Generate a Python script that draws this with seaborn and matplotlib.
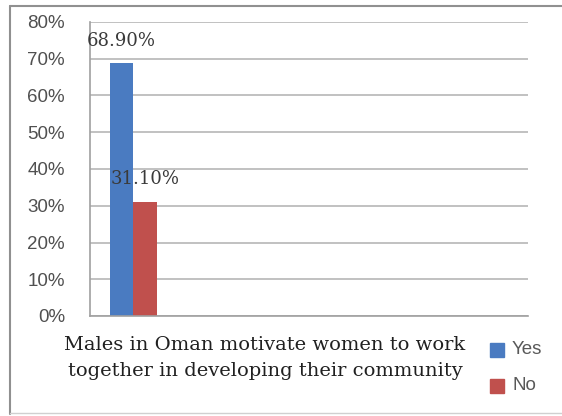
import matplotlib
matplotlib.use("Agg")
import matplotlib.pyplot as plt
import matplotlib.lines as mlines
import seaborn as sns
import pandas as pd

# Survey responses
categories = ["Males in Oman motivate women to work\ntogether in developing their community"]
answers = ["Yes", "No"]
percentages = [68.90, 31.10]
value_labels = ["68.90%", "31.10%"]
y_ticks = [0, 10, 20, 30, 40, 50, 60, 70, 80]
colors = ["#4a7bc1", "#c0504d"]

df = pd.DataFrame({
    "category": [categories[0]] * len(answers),
    "answer": answers,
    "pct": percentages,
})

sns.set_theme(style="white")
plt.rcParams["font.family"] = ["Liberation Sans", "DejaVu Sans"]

W, H = 562, 416
fig = plt.figure(figsize=(W / 100, H / 100), dpi=100)
ax = fig.add_axes([90 / W, 1 - 316 / H, 438 / W, (316 - 22) / H])

sns.barplot(data=df, x="category", y="pct", hue="answer", palette=colors,
            width=0.8, saturation=1, legend=False, linewidth=0, ax=ax)

ax.set_ylim(0, 80)
ax.set_xlim(-0.74, 6.715)
ax.set_yticks(y_ticks)
ax.set_yticklabels([f"{t}%" for t in y_ticks], fontsize=13.5, color="#505050")
ax.tick_params(axis="y", length=0, pad=18)
ax.set_xticks([])
ax.set_xlabel("")
ax.set_ylabel("")
ax.yaxis.grid(True, color="#b0b0b0", linewidth=1.1)
ax.set_axisbelow(True)
for side in ["top", "right"]:
    ax.spines[side].set_visible(False)
for side in ["left", "bottom"]:
    ax.spines[side].set_color("#a0a0a0")
    ax.spines[side].set_linewidth(1.2)

# value labels above bars
for patch, txt in zip(ax.patches, value_labels):
    cx = patch.get_x() + patch.get_width() / 2
    ax.annotate(txt, (cx, patch.get_height()), xytext=(0, 16),
                textcoords="offset points", ha="center", va="center",
                fontsize=13, color="#3a3a3a", family=["DejaVu Serif"])

# category label
fig.text(265 / W, 1 - 358 / H, categories[0], ha="center", va="center",
         fontsize=14, color="#202020", linespacing=1.6,
         family=["DejaVu Serif"])

# legend
for lab, col, y in zip(answers, colors, [350, 386]):
    fig.patches.append(plt.Rectangle((490 / W, 1 - (y + 7) / H), 14 / W, 14 / H,
                                     transform=fig.transFigure, color=col))
    fig.text(512 / W, 1 - y / H, lab, ha="left", va="center", fontsize=13.5,
             color="#595959")

# chart frame
fig.add_artist(mlines.Line2D([10 / W, 10 / W], [1 - 6 / H, 1 - 414 / H],
                             transform=fig.transFigure, color="#909090", linewidth=1.5))
fig.add_artist(mlines.Line2D([10 / W, 1.0], [1 - 6 / H, 1 - 6 / H],
                             transform=fig.transFigure, color="#909090", linewidth=1.5))
fig.add_artist(mlines.Line2D([10 / W, 1.0], [1 - 413 / H, 1 - 413 / H],
                             transform=fig.transFigure, color="#d0d0d0", linewidth=1))

fig.savefig("out.png", dpi=100)
